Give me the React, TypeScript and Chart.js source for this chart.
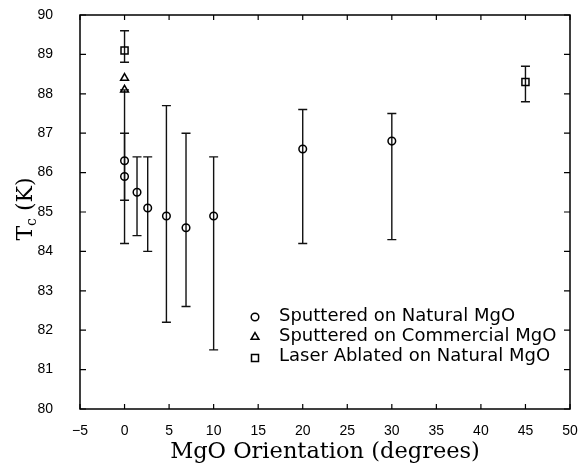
import React, { useEffect, useRef } from 'react';
import { Chart, registerables } from 'chart.js';

Chart.register(...registerables);

// ---- data ----
const xMin = -5;
const xMax = 50;
const xStep = 5;
const yMin = 80;
const yMax = 90;
const yStep = 1;

// Sputtered on Natural MgO (circles)
const circleX = [0, 0, 1.4, 2.6, 4.7, 6.9, 10, 20, 30];
const circleY = [86.3, 85.9, 85.5, 85.1, 84.9, 84.6, 84.9, 86.6, 86.8];
const circleLow = [84.2, 85.3, 84.4, 84.0, 82.2, 82.6, 81.5, 84.2, 84.3];
const circleHigh = [88.1, 87.0, 86.4, 86.4, 87.7, 87.0, 86.4, 87.6, 87.5];

// Sputtered on Commercial MgO (triangles)
const triX = [0, 0];
const triY = [88.4, 88.1];

// Laser Ablated on Natural MgO (squares)
const sqX = [0, 45];
const sqY = [89.1, 88.3];
const sqLow = [88.8, 87.8];
const sqHigh = [89.6, 88.7];

const legendLabels = [
  'Sputtered on Natural MgO',
  'Sputtered on Commercial MgO',
  'Laser Ablated on Natural MgO',
];
const xTitle = 'MgO Orientation (degrees)';
const yTitleMain = 'T';
const yTitleSub = 'c';
const yTitleRest = ' (K)';

const toPts = (xs: number[], ys: number[]) => xs.map((x, i) => ({ x, y: ys[i] }));

function drawMarker(ctx: CanvasRenderingContext2D, style: string, x: number, y: number) {
  ctx.save();
  ctx.strokeStyle = '#000';
  ctx.lineWidth = 1.5;
  ctx.beginPath();
  if (style === 'circle') {
    ctx.arc(x, y, 3.8, 0, Math.PI * 2);
  } else if (style === 'triangle') {
    const r = 4.5;
    ctx.moveTo(x, y - r);
    ctx.lineTo(x + r * Math.sin((2 * Math.PI) / 3), y - r * Math.cos((2 * Math.PI) / 3));
    ctx.lineTo(x + r * Math.sin((4 * Math.PI) / 3), y - r * Math.cos((4 * Math.PI) / 3));
    ctx.closePath();
  } else {
    ctx.rect(x - 3.5, y - 3.5, 7, 7);
  }
  ctx.stroke();
  ctx.restore();
}

const errorBarPlugin = {
  id: 'errorBars',
  beforeDatasetsDraw(chart: any) {
    const { ctx, scales } = chart;
    const xs = scales.x;
    const ys = scales.y;
    const sets = [
      { x: circleX, lo: circleLow, hi: circleHigh },
      { x: sqX, lo: sqLow, hi: sqHigh },
    ];
    ctx.save();
    ctx.strokeStyle = '#111';
    ctx.lineWidth = 1.4;
    sets.forEach((s) => {
      s.x.forEach((xv, i) => {
        const px = xs.getPixelForValue(xv);
        const pLo = ys.getPixelForValue(s.lo[i]);
        const pHi = ys.getPixelForValue(s.hi[i]);
        ctx.beginPath();
        ctx.moveTo(px, pLo);
        ctx.lineTo(px, pHi);
        ctx.moveTo(px - 4.5, pLo);
        ctx.lineTo(px + 4.5, pLo);
        ctx.moveTo(px - 4.5, pHi);
        ctx.lineTo(px + 4.5, pHi);
        ctx.stroke();
      });
    });
    ctx.restore();
  },
};

const framePlugin = {
  id: 'frameAndText',
  afterDraw(chart: any) {
    const { ctx, chartArea, scales } = chart;
    const { left, right, top, bottom } = chartArea;
    ctx.save();
    ctx.strokeStyle = '#000';
    ctx.lineWidth = 1.5;
    ctx.strokeRect(left, top, right - left, bottom - top);
    ctx.lineWidth = 1.2;
    ctx.beginPath();
    scales.y.ticks.forEach((t: any) => {
      const py = scales.y.getPixelForValue(t.value);
      ctx.moveTo(left, py);
      ctx.lineTo(left + 6, py);
      ctx.moveTo(right, py);
      ctx.lineTo(right - 6, py);
    });
    scales.x.ticks.forEach((t: any) => {
      const px = scales.x.getPixelForValue(t.value);
      ctx.moveTo(px, bottom);
      ctx.lineTo(px, bottom - 5);
      ctx.moveTo(px, top);
      ctx.lineTo(px, top + 5);
    });
    ctx.stroke();

    // legend
    const styles = ['circle', 'triangle', 'rect'];
    const markerY = [317, 337, 358];
    const textY = [321, 341, 361];
    ctx.fillStyle = '#000';
    ctx.font = '18px "DejaVu Sans"';
    ctx.textAlign = 'left';
    ctx.textBaseline = 'alphabetic';
    legendLabels.forEach((lab, i) => {
      drawMarker(ctx, styles[i], 255, markerY[i]);
      ctx.fillText(lab, 279, textY[i]);
    });

    // x title
    ctx.font = '22.5px "DejaVu Serif"';
    ctx.textAlign = 'center';
    ctx.fillText(xTitle, (left + right) / 2, 458);

    // y title (rotated)
    ctx.save();
    ctx.translate(32, 209);
    ctx.rotate(-Math.PI / 2);
    ctx.textAlign = 'left';
    const mainFont = '22px "DejaVu Serif"';
    const subFont = '14px "DejaVu Serif"';
    ctx.font = mainFont;
    const wT = ctx.measureText(yTitleMain).width;
    const wR = ctx.measureText(yTitleRest).width;
    ctx.font = subFont;
    const wC = ctx.measureText(yTitleSub).width;
    const total = wT + wC + wR;
    let x0 = -total / 2;
    ctx.font = mainFont;
    ctx.fillText(yTitleMain, x0, 0);
    x0 += wT;
    ctx.font = subFont;
    ctx.fillText(yTitleSub, x0, 4);
    x0 += wC;
    ctx.font = mainFont;
    ctx.fillText(yTitleRest, x0, 0);
    ctx.restore();

    ctx.restore();
  },
};

const zeroPad = (s: any) => {
  s.paddingTop = 0;
  s.paddingBottom = 0;
  s.paddingLeft = 0;
  s.paddingRight = 0;
};

export default function App() {
  const ref = useRef<HTMLCanvasElement>(null);
  useEffect(() => {
    const canvas = ref.current;
    if (!canvas) return;
    const tickFont = { family: '"Liberation Sans", Arial, sans-serif', size: 14 };
    const chart = new Chart(canvas, {
      type: 'scatter',
      data: {
        datasets: [
          {
            label: legendLabels[0],
            data: toPts(circleX, circleY),
            pointStyle: 'circle',
            pointRadius: 3.8,
            borderColor: '#000',
            backgroundColor: 'rgba(0,0,0,0)',
            borderWidth: 1.5,
          },
          {
            label: legendLabels[1],
            data: toPts(triX, triY),
            pointStyle: 'triangle',
            pointRadius: 4.5,
            borderColor: '#000',
            backgroundColor: 'rgba(0,0,0,0)',
            borderWidth: 1.5,
          },
          {
            label: legendLabels[2],
            data: toPts(sqX, sqY),
            pointStyle: 'rect',
            pointRadius: 5,
            borderColor: '#000',
            backgroundColor: 'rgba(0,0,0,0)',
            borderWidth: 1.5,
          },
        ],
      },
      options: {
        responsive: false,
        animation: false,
        devicePixelRatio: 1,
        layout: { autoPadding: false, padding: { top: 15, right: 12, left: 0, bottom: 0 } },
        plugins: { legend: { display: false }, tooltip: { enabled: false } },
        scales: {
          x: {
            type: 'linear',
            min: xMin,
            max: xMax,
            ticks: {
              stepSize: xStep,
              font: tickFont,
              color: '#000',
              padding: 14,
              callback: (v: any) => (Number(v) < 0 ? '\u2212' + Math.abs(Number(v)) : String(v)),
            },
            grid: { display: false, drawTicks: false },
            border: { display: false },
            afterFit: (s: any) => {
              s.height = 57;
              zeroPad(s);
            },
          },
          y: {
            type: 'linear',
            min: yMin,
            max: yMax,
            ticks: { stepSize: yStep, font: tickFont, color: '#000', padding: 27 },
            grid: { display: false, drawTicks: false },
            border: { display: false },
            afterFit: (s: any) => {
              s.width = 80;
              zeroPad(s);
            },
          },
        },
      },
      plugins: [errorBarPlugin, framePlugin],
    } as any);
    return () => chart.destroy();
  }, []);
  return (
    <div style={{ position: 'fixed', left: 0, top: 0, width: 582, height: 466, background: '#fff' }}>
      <canvas ref={ref} width={582} height={466} style={{ display: 'block', width: 582, height: 466 }} />
    </div>
  );
}
